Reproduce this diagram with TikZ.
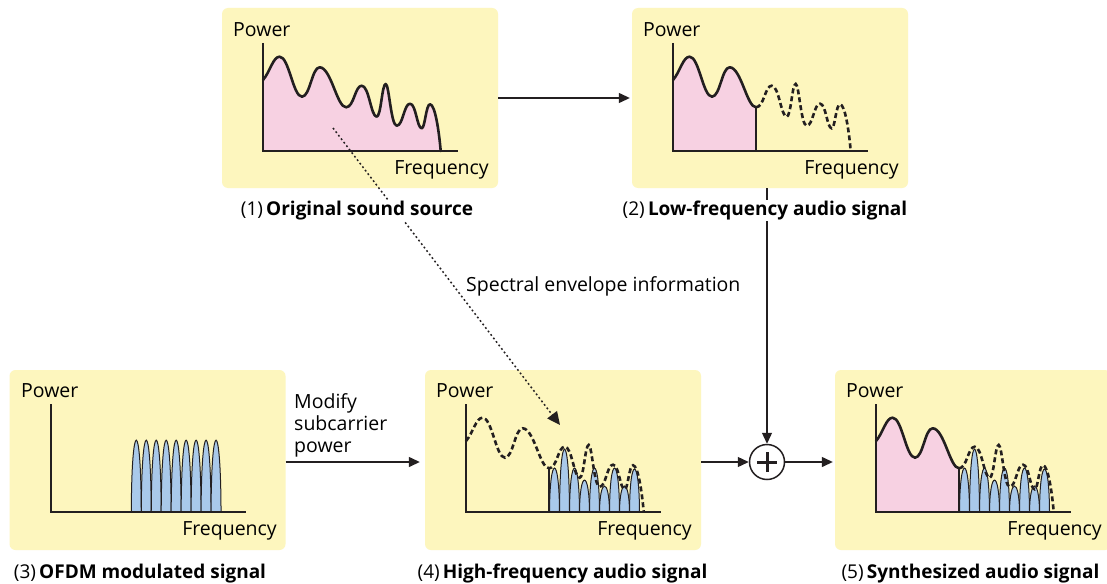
\documentclass[tikz,border=0pt]{standalone}
\usepackage{fontspec}
\setmainfont{Open Sans}
\usetikzlibrary{arrows.meta}
\definecolor{boxyellow}{HTML}{FDF6BE}
\definecolor{pinkfill}{HTML}{F7D1E2}
\definecolor{bluefill}{HTML}{A9C9EA}
\definecolor{ink}{HTML}{231F20}
\def\envA{(0,71) .. controls (7,79) and (10,94.3) .. (16.6,94.3) .. controls (26,94.3) and (30,54.3) .. (39,54.3) .. controls (47,54.3) and (49,83.7) .. (56.6,83.7) .. controls (68,83.7) and (74,43.7) .. (83,43.7)}
\def\envB{.. controls (91,43.7) and (92,65.3) .. (98.7,65.3) .. controls (106,65.3) and (108,34.3) .. (113.7,34.3) .. controls (118,34.3) and (119,67) .. (122.7,67) .. controls (126,67) and (128,25.3) .. (133.7,25.3) .. controls (140,25.3) and (141,47.3) .. (147,47.3) .. controls (153,47.3) and (154,22.7) .. (158.7,22.7) .. controls (162,22.7) and (163,46.7) .. (167,46.7) .. controls (172,46.7) and (176,20) .. (177.7,0)}
\newcommand{\mylobe}[3]{\filldraw[lobe] (#1,0) .. controls (#1+0.3,#3*1.33) and (#1+#2-0.3,#3*1.33) .. (#1+#2,0) -- cycle;}
\newcommand{\myaxes}{%
  \draw[axisline] (0,108) -- (0,0) -- (195,0);
  \node[anchor=base west, inner sep=0] at (-30,114.5) {Power};
  \node[anchor=base east, inner sep=0] at (226,-23.5) {Frequency};}
\newcommand{\hflobes}{%
  \foreach \h [count=\i from 0] in {44,63,44,32,44,26,44,26,43}
    {\mylobe{83.5+10*\i}{10}{\h}}}
\begin{document}
\begin{tikzpicture}[x=1pt,y=-1pt,
  font=\fontsize{19.5}{22}\selectfont,
  panel/.style={fill=boxyellow, rounded corners=6pt, minimum width=276pt, minimum height=180pt, inner sep=0pt, draw=none},
  axisline/.style={line width=1.5pt, draw=ink},
  curve/.style={line width=2.6pt, draw=ink, line join=round, line cap=round},
  dcurve/.style={line width=2.6pt, draw=ink, dash pattern=on 5pt off 3pt},
  lobe/.style={fill=bluefill, draw=ink, line width=1pt},
  conn/.style={line width=1.3pt, draw=ink, -{Triangle[length=11pt,width=10pt]}},
  dotconn/.style={line width=1.5pt, draw=ink, dash pattern=on 1.8pt off 2.6pt, -{Triangle[length=13pt,width=12pt]}},
  lab/.style={fill=white, inner sep=1pt, anchor=base, font=\fontsize{19}{22}\selectfont}]
\useasboundingbox (0,0) rectangle (1107,583);
\fill[white] (0,0) rectangle (1107,583);

% boxes
\node[panel] (b1) at (360,98) {};
\node[panel] (b2) at (770,98) {};
\node[panel] (b3) at (147.5,460) {};
\node[panel] (b4) at (563,460) {};
\node[panel] (b5) at (973,460) {};

% panel 1
\begin{scope}[shift={(263,151)}, yscale=-1]
  \fill[pinkfill] (0,0) -- \envA \envB -- cycle;
  \draw[curve] \envA \envB;
  \myaxes
\end{scope}

% panel 2
\begin{scope}[shift={(673,151)}, yscale=-1]
  \fill[pinkfill] (0,0) -- \envA -- (83,0) -- cycle;
  \draw[line width=1.3pt, draw=ink] (83,0) -- (83,43.7);
  \draw[dcurve] (83,43.7) \envB;
  \draw[curve] \envA;
  \myaxes
\end{scope}

% panel 3
\begin{scope}[shift={(51,512)}, yscale=-1]
  \foreach \i in {0,...,8} {\mylobe{80.3+9.97*\i}{9.97}{72}}
  \myaxes
\end{scope}

% panel 4
\begin{scope}[shift={(466,512)}, yscale=-1]
  \hflobes
  \draw[line width=1.3pt, draw=ink] (83,0) -- (83,43.7);
  \draw[dcurve] \envA \envB;
  \myaxes
\end{scope}

% panel 5
\begin{scope}[shift={(876,512)}, yscale=-1]
  \fill[pinkfill] (0,0) -- \envA -- (83,0) -- cycle;
  \hflobes
  \draw[line width=1.3pt, draw=ink] (83,0) -- (83,43.7);
  \draw[dcurve] (83,43.7) \envB;
  \draw[curve] \envA;
  \myaxes
\end{scope}

% adder
\node[circle, draw=ink, line width=1.5pt, fill=white, minimum size=35pt, inner sep=0pt] (plus) at (767,462) {};
\draw[line width=3pt, draw=ink] ([xshift=-10pt]plus.center) -- ([xshift=10pt]plus.center);
\draw[line width=3pt, draw=ink] ([yshift=-10pt]plus.center) -- ([yshift=10pt]plus.center);

% connectors
\draw[conn, shorten >=2pt] (b1.east) -- (b2.west);
\draw[conn] (plus |- b2.south) -- (plus.north);
\draw[conn, shorten >=5pt] (b3.east |- plus) -- (b4.west |- plus);
\draw[conn] (b4.east |- plus) -- (plus.west);
\draw[conn, shorten >=2pt] (plus.east) -- (b5.west |- plus);
\coordinate (ds) at (333,128);
\coordinate (de) at (560,425);
\draw[dotconn] (ds) -- (de);

% texts
\node[anchor=base west, inner sep=0pt] (spec) at (466,291) {Spectral envelope information};
\node[anchor=north west, align=left, inner sep=0pt] (mod) at (294,393) {Modify\\subcarrier\\power};

\node[lab] (l1) at (357,215.5) {(1)\,\textbf{Original sound source}};
\node[lab] (l2) at (765,215.5) {(2)\,\textbf{Low-frequency audio signal}};
\node[lab] (l3) at (140,578) {(3)\,\textbf{OFDM modulated signal}};
\node[lab] (l4) at (562.5,578) {(4)\,\textbf{High-frequency audio signal}};
\node[lab] (l5) at (970.5,578) {(5)\,\textbf{Synthesized audio signal}};
\end{tikzpicture}
\end{document}
